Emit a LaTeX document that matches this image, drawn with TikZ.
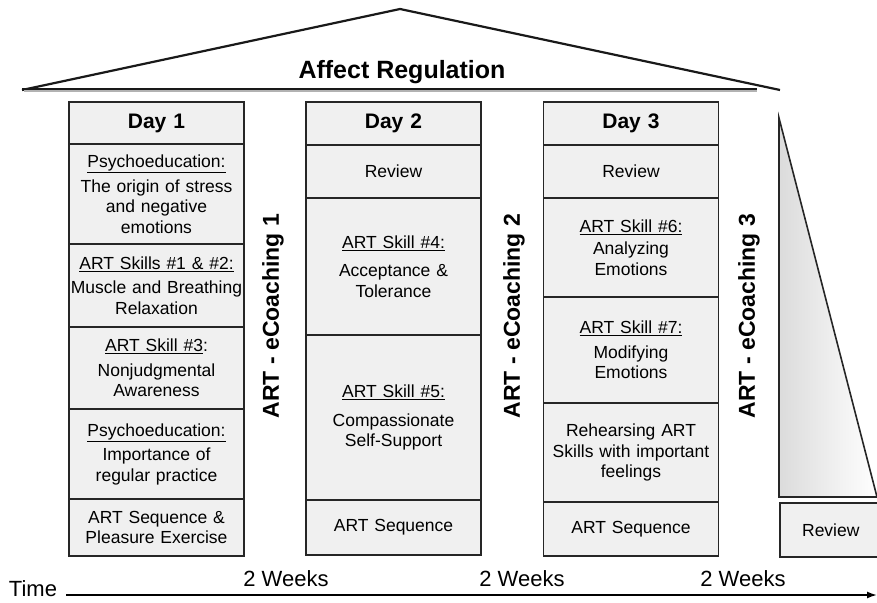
\documentclass[tikz,border=0pt]{standalone}
\usepackage{fontspec}
\setmainfont{Liberation Sans}
\usetikzlibrary{arrows.meta}

\newcommand{\cellfont}{\fontsize{17.5}{20.5}\selectfont}
\newcommand{\dayfont}{\fontsize{21}{24}\selectfont\bfseries}
\newcommand{\coachfont}{\fontsize{23}{26}\selectfont\bfseries}
\newcommand{\rooffont}{\fontsize{25}{28}\selectfont\bfseries}
\newcommand{\timefont}{\fontsize{22}{25}\selectfont}

\tikzset{
  cell/.style={draw=black!85, line width=1.6pt, fill=black!6, align=center,
    inner xsep=0pt, inner ysep=0pt, text width=175pt, font=\cellfont},
  dayhead/.style={cell, font=\dayfont},
  coach/.style={rotate=90, font=\coachfont},
  roof/.style={black!90, line width=2.2pt, line join=miter},
  tri/.style={draw=black!85, line width=1.6pt, left color=black!14, right color=white},
}

\begin{document}
\begin{tikzpicture}[x=1pt,y=-1pt]
\useasboundingbox (0,0) rectangle (877,602);
%roof
\draw[roof] (22,90) -- (400,9) -- (780,90);
\draw[black!30, line width=1.5pt] (24,91) -- (757,91);
\draw[black!90, line width=2pt] (22,88.5) -- (757,88.5);
\node[font=\rooffont, anchor=base] (title) at (402,78) {Affect Regulation};
%day 1
\node[dayhead, minimum height=42pt] (d1h) at (156.5,123) {Day 1};
\node[cell, minimum height=100pt] (d1a) at (156.5,194) {\underline{Psychoeducation:}\\[4pt] The origin of stress\\ and negative\\ emotions};
\node[cell, minimum height=83pt] (d1b) at (156.5,285.5) {\underline{ART Skills \#1 \& \#2:}\\[4pt] Muscle and Breathing\\ Relaxation};
\node[cell, minimum height=82pt] (d1c) at (156.5,368) {\underline{ART Skill \#3}:\\[4pt] Nonjudgmental\\ Awareness};
\node[cell, minimum height=90pt] (d1d) at (156.5,454) {\underline{Psychoeducation:}\\[4pt] Importance of\\ regular practice};
\node[cell, minimum height=57pt] (d1e) at (156.5,527.5) {ART Sequence \&\\ Pleasure Exercise};
%day 2
\node[dayhead, minimum height=43pt] (d2h) at (393.5,123.5) {Day 2};
\node[cell, minimum height=53pt] (d2a) at (393.5,171.5) {Review};
\node[cell, minimum height=137pt] (d2b) at (393.5,266.5) {\underline{ART Skill \#4:}\\[8pt] Acceptance \&\\ Tolerance};
\node[cell, minimum height=165pt] (d2c) at (393.5,417.5) {\underline{ART Skill \#5:}\\[8pt] Compassionate\\ Self-Support};
\node[cell, minimum height=55pt] (d2d) at (393.5,527.5) {ART Sequence};
%day 3
\node[dayhead, minimum height=43pt] (d3h) at (631,123.5) {Day 3};
\node[cell, minimum height=53pt] (d3a) at (631,171.5) {Review};
\node[cell, minimum height=99pt] (d3b) at (631,247.5) {\underline{ART Skill \#6:}\\[2pt] Analyzing\\ Emotions};
\node[cell, minimum height=106pt] (d3c) at (631,350) {\underline{ART Skill \#7:}\\[4pt] Modifying\\ Emotions};
\node[cell, minimum height=99pt] (d3d) at (631,452.5) {Rehearsing ART\\ Skills with important\\ feelings};
\node[cell, minimum height=54pt] (d3e) at (631,529) {ART Sequence};
%follow-up
\draw[tri] (779,118) -- (877,497) -- (779,497) -- cycle;
\node[cell, text width=102pt, minimum height=54pt, anchor=west] (d4a) at (779,530) {Review};
%eCoaching
\node[coach] (c1) at (273,316) {ART - eCoaching 1};
\node[coach] (c2) at (514,316) {ART - eCoaching 2};
\node[coach] (c3) at (749,316) {ART - eCoaching 3};
%time axis
\node[font=\timefont, anchor=base] (time) at (33,596) {Time};
\node[font=\timefont, anchor=base] (w1) at (286,586) {2 Weeks};
\node[font=\timefont, anchor=base] (w2) at (522,586) {2 Weeks};
\node[font=\timefont, anchor=base] (w3) at (743,586) {2 Weeks};
\coordinate (tstart) at (66,595);
\coordinate (tend) at (877,595);
\draw[line width=1.6pt, -{Latex[length=10pt,width=7pt]}] (tstart) -- (tend);
\end{tikzpicture}
\end{document}
